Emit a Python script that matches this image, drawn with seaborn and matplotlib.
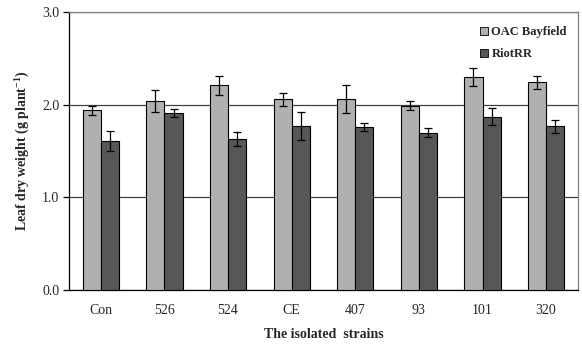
import matplotlib
matplotlib.use("Agg")
import matplotlib.pyplot as plt
import seaborn as sns
import pandas as pd
import numpy as np

categories = ["Con", "526", "524", "CE", "407", "93", "101", "320"]
oac_values = [1.94, 2.04, 2.21, 2.06, 2.06, 1.99, 2.30, 2.24]
oac_err = [0.05, 0.12, 0.10, 0.07, 0.15, 0.05, 0.10, 0.07]
riot_values = [1.61, 1.91, 1.63, 1.77, 1.76, 1.70, 1.87, 1.77]
riot_err = [0.11, 0.045, 0.08, 0.155, 0.045, 0.045, 0.09, 0.07]
series = ["OAC Bayfield", "RiotRR"]

sns.set_style("white")
plt.rcParams["font.family"] = ["Liberation Serif", "DejaVu Serif"]
plt.rcParams["mathtext.fontset"] = "custom"
plt.rcParams["mathtext.rm"] = "Liberation Serif"
plt.rcParams["mathtext.bf"] = "Liberation Serif:bold"

df = pd.DataFrame({
    "strain": categories * 2,
    "value": oac_values + riot_values,
    "err": oac_err + riot_err,
    "variety": [series[0]] * len(categories) + [series[1]] * len(categories),
})

fig = plt.figure(figsize=(5.82, 3.47), dpi=100)
ax = fig.add_axes([0.1186, 0.164, 0.8744, 0.8014])

sns.barplot(data=df, x="strain", y="value", hue="variety", order=categories,
            hue_order=series, palette=["#b0b0b0", "#575757"], errorbar=None,
            width=0.57, edgecolor="black", linewidth=0.8, ax=ax, zorder=3)

# error bars at bar centres
for container, errs in zip(ax.containers, [oac_err, riot_err]):
    xs = [p.get_x() + p.get_width() / 2 for p in container.patches]
    hs = [p.get_height() for p in container.patches]
    ax.errorbar(xs, hs, yerr=errs, fmt="none", ecolor="black", elinewidth=0.9,
                capsize=3, capthick=0.9, zorder=4)

ax.set_ylim(0, 3.0)
ax.set_xlim(-0.5, len(categories) - 0.5)
ax.set_yticks([0, 1, 2, 3])
ax.set_yticklabels(["0.0", "1.0", "2.0", "3.0"], fontsize=10)
ax.yaxis.grid(True, color="#404040", linewidth=0.9, zorder=0)
ax.set_axisbelow(True)

# category labels centred, ticks at category boundaries
ax.set_xticks(range(len(categories)))
ax.set_xticklabels(categories, fontsize=10)
ax.tick_params(axis="x", length=0, pad=10)
ax.set_xticks(np.arange(-0.5, len(categories), 1.0), minor=True)
ax.tick_params(axis="x", which="minor", length=4, width=0.9, direction="out", color="black")
ax.tick_params(axis="y", length=4, width=0.9, direction="out", color="black", left=True, pad=3)

for side in ["left", "bottom"]:
    ax.spines[side].set_color("black")
    ax.spines[side].set_linewidth(0.9)
for side in ["top", "right"]:
    ax.spines[side].set_visible(True)
    ax.spines[side].set_color("#808080")
    ax.spines[side].set_linewidth(0.9)

ax.set_xlabel("The isolated  strains", fontsize=10, fontweight="bold", labelpad=8)
ax.set_ylabel("Leaf dry weight (g plant$^{\\mathbf{-1}}$)", fontsize=10, fontweight="bold", labelpad=8)

leg = ax.legend(loc="upper right", bbox_to_anchor=(1.0, 0.99), frameon=False,
                prop={"family": "Liberation Serif", "weight": "bold", "size": 9},
                handlelength=0.6, handleheight=0.6, handletextpad=0.3, labelspacing=0.8)
for h in leg.legend_handles:
    h.set_edgecolor("black")
    h.set_linewidth(0.6)

fig.savefig("out.png", dpi=100)
